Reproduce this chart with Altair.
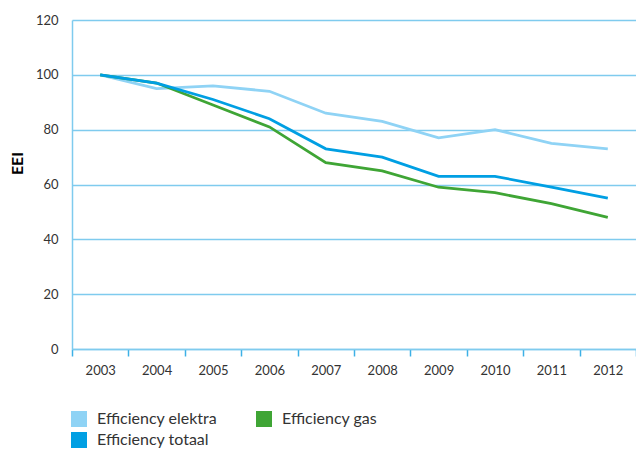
import altair as alt
import pandas as pd

years = ["2003", "2004", "2005", "2006", "2007", "2008", "2009", "2010", "2011", "2012"]
elektra = [100, 95, 96, 94, 86, 83, 77, 80, 75, 73]
gas = [100, 97, 89, 81, 68, 65, 59, 57, 53, 48]
totaal = [100, 97, 91, 84, 73, 70, 63, 63, 59, 55]

series_names = ["Efficiency elektra", "Efficiency gas", "Efficiency totaal"]
series_colors = ["#8FD3F5", "#3FA535", "#009FE3"]

rows = []
for name, vals in zip(series_names, [elektra, gas, totaal]):
    for y, v in zip(years, vals):
        rows.append({"jaar": y, "EEI": v, "serie": name})
df = pd.DataFrame(rows)

x_enc = alt.X("jaar:O", sort=years, bandPosition=0.5,
              scale=alt.Scale(type="band", paddingInner=0, paddingOuter=0),
              axis=alt.Axis(title=None, labelAngle=0, tickBand="extent", ticks=True,
                            tickSize=7, tickColor="#3DB0E6", tickWidth=1.5,
                            domainColor="#7FCBEE", domainWidth=1.5,
                            labelPadding=8, labelFontSize=13, labelFont="Lato",
                            labelColor="#333333", grid=False))
y_enc = alt.Y("EEI:Q", scale=alt.Scale(domain=[0, 120]),
              axis=alt.Axis(title="EEI", values=[0, 20, 40, 60, 80, 100, 120],
                            ticks=False, labelPadding=14, labelFontSize=13, labelFont="Lato",
                            labelColor="#333333", domainColor="#7FCBEE", domainWidth=1.5,
                            gridColor="#7FCBEE", gridWidth=1.5, gridOpacity=1,
                            titleFont="Lato", titleFontSize=16, titleFontWeight="bold",
                            titleColor="#000000", titleAngle=-90, titleX=-55, titleY=143,
                            titleAlign="center", titleBaseline="middle"))
color_scale = alt.Scale(domain=series_names, range=series_colors)

base = alt.Chart(df)

lines = base.mark_line(strokeWidth=2.8).encode(
    x=x_enc, y=y_enc,
    color=alt.Color("serie:N", sort=series_names, scale=color_scale, legend=None),
)

squares = base.mark_square(opacity=0, size=1).encode(
    x=x_enc, y=y_enc,
    color=alt.Color("serie:N", sort=series_names, scale=color_scale,
                    legend=alt.Legend(title=None, orient="none", legendX=-1, legendY=391,
                                      columns=2, direction="horizontal",
                                      symbolType="square", symbolSize=256,
                                      symbolStrokeWidth=0, symbolOpacity=1,
                                      labelOffset=10,
                                      labelFont="Lato", labelFontSize=16,
                                      labelColor="#333333", rowPadding=5, columnPadding=38,
                                      labelLimit=300)),
)

chart = alt.layer(lines, squares).resolve_legend(color="independent").properties(
    width=564, height=329,
    autosize=alt.AutoSizeParams(type="none"),
    padding={"left": 64, "top": 12, "right": 0, "bottom": 100},
).configure_view(stroke=None)

chart.save("out.html", embed_options={"renderer": "svg", "actions": False})
